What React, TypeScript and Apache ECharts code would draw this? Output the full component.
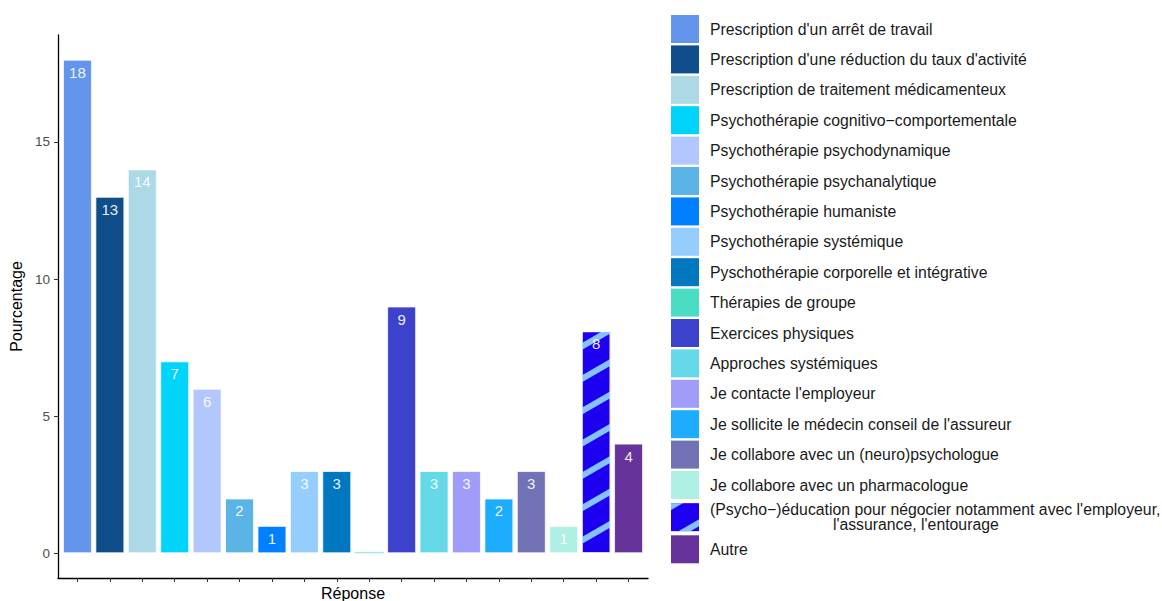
import React, { useEffect, useRef } from "react";
import * as echarts from "echarts";

const categories = [
  "Prescription d'un arrêt de travail",
  "Prescription d'une réduction du taux d'activité",
  "Prescription de traitement médicamenteux",
  "Psychothérapie cognitivo−comportementale",
  "Psychothérapie psychodynamique",
  "Psychothérapie psychanalytique",
  "Psychothérapie humaniste",
  "Psychothérapie systémique",
  "Pyschothérapie corporelle et intégrative",
  "Thérapies de groupe",
  "Exercices physiques",
  "Approches systémiques",
  "Je contacte l'employeur",
  "Je sollicite le médecin conseil de l'assureur",
  "Je collabore avec un (neuro)psychologue",
  "Je collabore avec un pharmacologue",
  "(Psycho−)éducation pour négocier notamment avec l'employeur,\n" + "\u00a0".repeat(28) + "l'assurance, l'entourage",
  "Autre",
];

const values = [18, 13, 14, 7, 6, 2, 1, 3, 3, 0, 9, 3, 3, 2, 3, 1, 8.1, 4];

const colors = [
  "#6495ED", "#104E8B", "#ADD8E6", "#00D4FA", "#B3C7FF", "#5AB4E5",
  "#0080FF", "#96CDFF", "#0077BE", "#48DDC4", "#3C42CC", "#66D9E8",
  "#A09CFA", "#1CADFF", "#7173B6", "#AFF0E4", "#1E00F0", "#65339A",
];

const yTicks = [0, 5, 10, 15];
const patternedIndex = 16;
const FONT = "Liberation Sans, Arial, sans-serif";

export default function App() {
  const ref = useRef<HTMLDivElement>(null);
  useEffect(() => {
    if (!ref.current) return;
    const chart = echarts.init(ref.current, null, { renderer: "svg" });
    const xTicks = categories.map((_, i) => i + 1);
    const series = categories.map((name, i) => ({
      name,
      type: "bar",
      barWidth: 29,
      barGap: "-100%",
      barMinHeight: values[i] === 0 ? 1.5 : 0,
      data: [
        {
          value: [i + 1, values[i]],
          itemStyle: values[i] === 0 ? { color: "#9EEBE2" } : undefined,
        },
      ],
      itemStyle: {
        color: colors[i],
        borderColor: "rgba(255,255,255,0.75)",
        borderWidth: values[i] === 0 ? 0 : 1,
        ...(i === patternedIndex
          ? {
              decal: {
                symbol: "rect",
                symbolSize: 1,
                dashArrayX: [1, 0],
                dashArrayY: [6, 22],
                rotation: -Math.PI / 6,
                color: "#85C1FF",
              },
            }
          : {}),
      },
      label: {
        show: true,
        position: "insideTop",
        distance: 5,
        color: "rgba(255,255,255,0.92)",
        fontSize: 15,
        fontFamily: FONT,
        formatter: (p: any) => (p.value[1] > 0 ? String(Math.round(p.value[1])) : ""),
      },
    }));
    chart.setOption({
      animation: false,
      backgroundColor: "#ffffff",
      grid: { left: 58, right: 514, top: 35, bottom: 23, outerBoundsMode: "none", containLabel: false },
      xAxis: {
        type: "value",
        min: 0.4,
        max: 18.6,
        name: "Réponse",
        nameLocation: "middle",
        nameGap: 7,
        nameTextStyle: { color: "#000", fontSize: 16, fontFamily: FONT, verticalAlign: "top" },
        splitLine: { show: false },
        axisLine: { onZero: false, lineStyle: { color: "#000", width: 1.3 } },
        axisTick: { show: true, length: 4, customValues: xTicks, lineStyle: { color: "#333" } },
        axisLabel: { show: false },
      },
      yAxis: {
        type: "value",
        min: -0.9,
        max: 18.9,
        name: "Pourcentage",
        nameLocation: "middle",
        nameGap: 32,
        nameTextStyle: { color: "#000", fontSize: 16, fontFamily: FONT },
        splitLine: { show: false },
        axisLine: { show: true, onZero: false, lineStyle: { color: "#000", width: 1.3 } },
        axisTick: { show: true, length: 4, customValues: yTicks, lineStyle: { color: "#333" } },
        axisLabel: {
          customValues: yTicks,
          color: "#4d4d4d",
          fontSize: 13.5,
          margin: 8,
          fontFamily: FONT,
        },
      },
      legend: {
        orient: "vertical",
        left: 671,
        top: 15,
        padding: 0,
        itemWidth: 28,
        itemHeight: 28,
        itemGap: 2.4,
        icon: "rect",
        selectedMode: false,
        data: categories,
        itemStyle: { borderWidth: 0 },
        textStyle: {
          color: "#1a1a1a",
          fontSize: 15.8,
          lineHeight: 15.5,
          padding: [0, 0, 0, 6],
          fontFamily: FONT,
        },
      },
      series,
    });
    return () => chart.dispose();
  }, []);
  return (
    <div
      ref={ref}
      style={{ position: "absolute", left: 0, top: 0, width: 1162, height: 601 }}
    />
  );
}
